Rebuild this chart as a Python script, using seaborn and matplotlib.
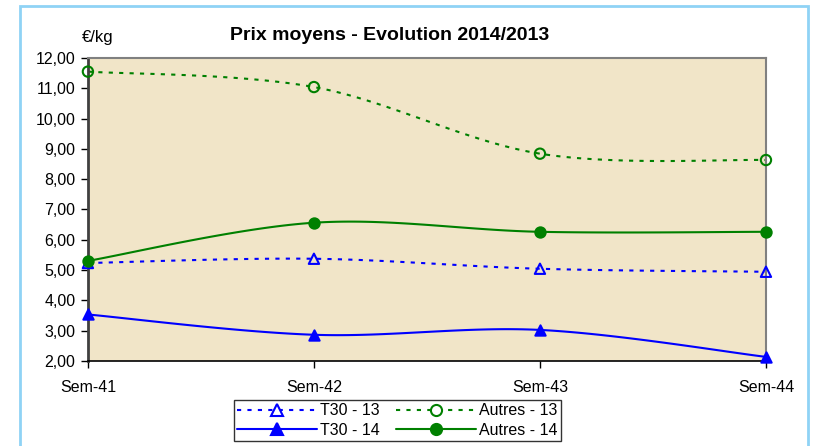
import numpy as np
import pandas as pd
import matplotlib
matplotlib.use('Agg')
import matplotlib.pyplot as plt
import seaborn as sns
from matplotlib.ticker import FuncFormatter
from matplotlib.lines import Line2D
from matplotlib.patches import Rectangle

# Donnees
semaines = ['Sem-41', 'Sem-42', 'Sem-43', 'Sem-44']
t30_13 = [5.23, 5.37, 5.04, 4.94]
autres_13 = [11.55, 11.04, 8.84, 8.63]
t30_14 = [3.53, 2.86, 3.02, 2.13]
autres_14 = [5.30, 6.56, 6.26, 6.26]


def lissage(y, n=40):
    # courbe lissee type Excel (Catmull-Rom) entre les points
    y = np.asarray(y, dtype=float)
    x = np.arange(len(y), dtype=float)
    p = np.concatenate([[y[0]], y, [y[-1]]])
    px = np.concatenate([[x[0]], x, [x[-1]]])
    xs, ys = [], []
    for i in range(len(y) - 1):
        t = np.linspace(0, 1, n)
        p0, p1, p2, p3 = p[i], p[i + 1], p[i + 2], p[i + 3]
        q0, q1, q2, q3 = px[i], px[i + 1], px[i + 2], px[i + 3]
        c1y, c2y = p1 + (p2 - p0) / 6, p2 - (p3 - p1) / 6
        c1x, c2x = q1 + (q2 - q0) / 6, q2 - (q3 - q1) / 6
        b = lambda a, c, d, e: (1 - t) ** 3 * a + 3 * (1 - t) ** 2 * t * c + 3 * (1 - t) * t ** 2 * d + t ** 3 * e
        xs.append(b(q1, c1x, c2x, q2))
        ys.append(b(p1, c1y, c2y, p2))
    return np.concatenate(xs), np.concatenate(ys)


sns.set_theme(style='white')
plt.rcParams['font.family'] = ['Liberation Sans', 'DejaVu Sans']
plt.rcParams['text.color'] = 'black'

fig = plt.figure(figsize=(8.14, 4.46), dpi=100)
fig.patch.set_facecolor('white')
ax = fig.add_axes([0.108, 0.191, 0.833, 0.679])
ax.set_facecolor('#F1E5C8')

# cadre bleu clair autour du graphique
fig.add_artist(Rectangle((20 / 814, -0.05), 788 / 814, 1 - 6 / 446 + 0.05,
                         transform=fig.transFigure, fill=False,
                         edgecolor='#8FD3F5', lw=2))

pointille = (0, (2, 3))
series = [
    ('T30 - 13', t30_13, 'blue', pointille, '^', 'none'),
    ('T30 - 14', t30_14, 'blue', '-', '^', 'blue'),
    ('Autres - 13', autres_13, 'green', pointille, 'o', 'none'),
    ('Autres - 14', autres_14, 'green', '-', 'o', 'green'),
]

handles = []
for nom, vals, coul, ls, mk, fc in series:
    xs, ys = lissage(vals)
    ax.plot(xs, ys, color=coul, ls=ls, lw=1.5, clip_on=False)
    df = pd.DataFrame({'x': np.arange(len(vals)), 'y': vals})
    sns.scatterplot(data=df, x='x', y='y', ax=ax, marker=mk, s=55,
                    facecolors=fc, edgecolor=coul, linewidth=1.5,
                    color=coul, clip_on=False, zorder=5, legend=False)
    handles.append(Line2D([0], [0], color=coul, ls=ls, lw=1.5, marker=mk,
                          markersize=8, markerfacecolor=fc if fc != 'none' else 'white',
                          markeredgecolor=coul, markeredgewidth=1.5, label=nom))

ax.set_xlim(0, 3)
ax.set_ylim(2, 12)
ax.set_xticks(range(len(semaines)))
ax.set_xticklabels(semaines)
ax.set_yticks(np.arange(2, 12.01, 1))
ax.yaxis.set_major_formatter(FuncFormatter(lambda v, p: f'{v:.2f}'.replace('.', ',')))
ax.set_xlabel('')
ax.set_ylabel('')
ax.tick_params(axis='both', labelsize=11.5, colors='black', length=5, width=1,
               direction='out', left=True, bottom=True, pad=4)
ax.tick_params(axis='x', pad=9)

for s in ['top', 'right']:
    ax.spines[s].set_color('#808080')
    ax.spines[s].set_linewidth(1.5)
ax.spines['left'].set_color('#404040')
ax.spines['left'].set_linewidth(2)
ax.spines['bottom'].set_color('black')
ax.spines['bottom'].set_linewidth(1.2)

fig.text(0.479, 0.921, 'Prix moyens - Evolution 2014/2013', ha='center', va='center',
         fontsize=14, fontweight='bold', color='black')
fig.text(0.12, 0.915, '€/kg', ha='center', va='center', fontsize=12, color='black')

leg = fig.legend(handles=handles, loc='center', bbox_to_anchor=(0.488, 0.057),
                 ncol=2, frameon=True, fontsize=11.5, handlelength=5,
                 columnspacing=1.0, handletextpad=0.2, labelspacing=0.3,
                 borderpad=0.2, fancybox=False)
for t in leg.get_texts():
    t.set_color('black')
leg.get_frame().set_edgecolor('black')
leg.get_frame().set_linewidth(1)

fig.savefig('out.png', dpi=100)
